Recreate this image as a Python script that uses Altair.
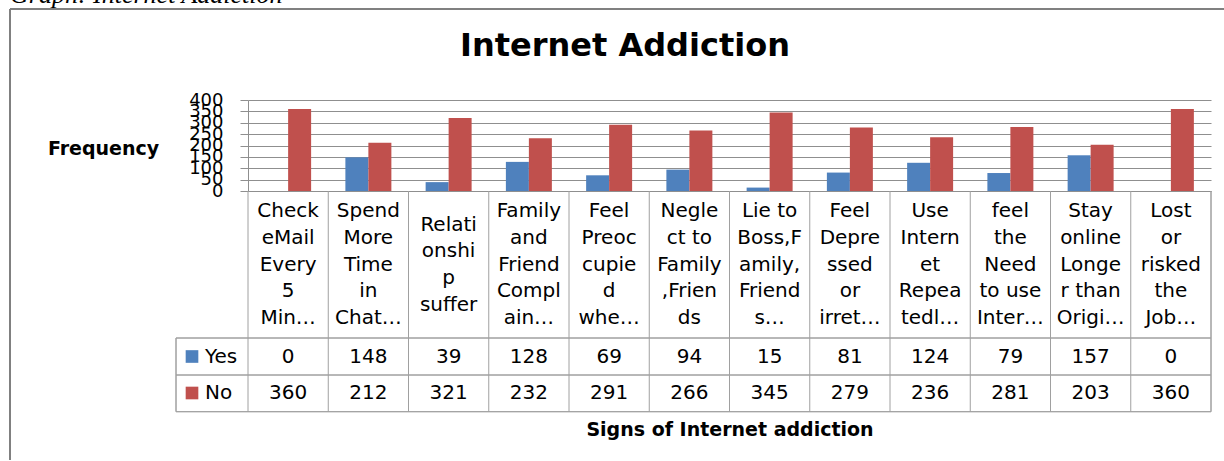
import altair as alt
import pandas as pd

# ---- data ----
categories = [
    "Check|eMail|Every|5|Min…",
    "Spend|More|Time|in|Chat…",
    "Relati|onshi|p|suffer",
    "Family|and|Friend|Compl|ain…",
    "Feel|Preoc|cupie|d|whe…",
    "Negle|ct to|Family|,Frien|ds",
    "Lie to|Boss,F|amily,|Friend|s…",
    "Feel|Depre|ssed|or|irret…",
    "Use|Intern|et|Repea|tedl…",
    "feel|the|Need|to use|Inter…",
    "Stay|online|Longe|r than|Origi…",
    "Lost|or|risked|the|Job…",
]
yes_values = [0, 148, 39, 128, 69, 94, 15, 81, 124, 79, 157, 0]
no_values = [360, 212, 321, 232, 291, 266, 345, 279, 236, 281, 203, 360]
series_names = ["Yes", "No"]
series_colors = ["#4F81BD", "#C0504D"]
y_ticks = [0, 50, 100, 150, 200, 250, 300, 350, 400]

df = pd.DataFrame({
    "cat": categories * 2,
    "series": ["Yes"] * len(categories) + ["No"] * len(categories),
    "value": yes_values + no_values,
})
df_cats = pd.DataFrame({"cat": categories})
df_series = pd.DataFrame({"series": series_names})

W, H = 963, 91
FONT = "DejaVu Sans"
GRID = "#8f8f8f"
TABLE = "#a0a0a0"

x_enc = alt.X(
    "cat:N", sort=categories,
    scale=alt.Scale(paddingInner=0, paddingOuter=0),
    axis=alt.Axis(
        title="Signs of Internet addiction",
        labelExpr="split(datum.label, '|')",
        labelAngle=0, labelFont=FONT, labelFontSize=20, labelColor="#000000",
        labelLineHeight=26.7, labelBaseline="middle", labelAlign="center",
        labelPadding={"condition": {"test": "length(split(datum.value, '|')) < 5", "value": 33},
                      "value": 19.7},
        labelLimit=200,
        ticks=False, tickSize=0, grid=False,
        domainColor=GRID, domainWidth=1,
        titleFont=FONT, titleFontSize=19, titleFontWeight="bold", titleColor="#000000",
        titleX=481.5, titleY=244.5, titleAlign="center", titleBaseline="alphabetic",
    ),
)
color_enc = alt.Color("series:N", scale=alt.Scale(domain=series_names, range=series_colors), legend=None)

bars = alt.Chart(df).mark_bar().encode(
    x=x_enc,
    xOffset=alt.XOffset("series:N", sort=series_names,
                        scale=alt.Scale(paddingInner=0, paddingOuter=0.745)),
    y=alt.Y("value:Q", scale=alt.Scale(domain=[0, 400], nice=False),
            axis=alt.Axis(
                values=y_ticks, title="Frequency",
                labelFont=FONT, labelFontSize=18, labelColor="#000000",
                labelOverlap=False, labelFlush=False, labelPadding=17,
                tickSize=8, tickColor=GRID, domainColor=GRID,
                gridColor=GRID, gridWidth=1,
                titleAngle=0, titleFont=FONT, titleFontSize=19, titleFontWeight="bold",
                titleColor="#000000", titleX=-145, titleY=54, titleAlign="center",
                titleBaseline="alphabetic",
            )),
    color=color_enc,
)

# data table grid
vlines = alt.Chart(df_cats).mark_rule(color=TABLE, strokeWidth=1).encode(
    x=alt.X("cat:N", sort=categories, bandPosition=0),
    y=alt.value(H), y2=alt.value(311.7),
)
vline_right = alt.Chart(df_series).mark_rule(color=TABLE).encode(
    x=alt.value(W), y=alt.value(H), y2=alt.value(311.7))
vline_left = alt.Chart(df_series).mark_rule(color=TABLE).encode(
    x=alt.value(-72), y=alt.value(238), y2=alt.value(311.7))
hl = [alt.Chart(df_series).mark_rule(color=TABLE).encode(
    x=alt.value(-72), x2=alt.value(W), y=alt.value(v)) for v in (238, 275, 311.7)]

rows = []
for s, yv in zip(series_names, (256.5, 293)):
    rows.append(alt.Chart(df).transform_filter(alt.datum.series == s).mark_text(
        font=FONT, fontSize=20, color="#000000", baseline="middle", align="center"
    ).encode(x=alt.X("cat:N", sort=categories, bandPosition=0.5), y=alt.value(yv), text="value:Q"))
    rows.append(alt.Chart(df_series).transform_filter(alt.datum.series == s).mark_square(
        size=160, opacity=1).encode(x=alt.value(-56), y=alt.value(yv), color=color_enc))
    rows.append(alt.Chart(df_series).transform_filter(alt.datum.series == s).mark_text(
        font=FONT, fontSize=20, color="#000000", baseline="middle", align="left"
    ).encode(x=alt.value(-43), y=alt.value(yv), text="series:N"))

title = alt.Chart(df_series.head(1)).mark_text(
    font=FONT, fontSize=32, fontWeight="bold", color="#000000", align="center", baseline="alphabetic"
).encode(x=alt.value(377), y=alt.value(-44), text=alt.value("Internet Addiction"))

caption = alt.Chart(df_series.head(1)).mark_text(
    font="Liberation Serif", fontSize=26, fontStyle="italic", color="#000000",
    align="left", baseline="alphabetic"
).encode(x=alt.value(-238), y=alt.value(-97), text=alt.value("Graph: Internet Addiction"))

frame_top = alt.Chart(df_series.head(1)).mark_rule(color="#808080", strokeWidth=2).encode(
    x=alt.value(-238), x2=alt.value(990), y=alt.value(-91))
frame_left = alt.Chart(df_series.head(1)).mark_rule(color="#808080", strokeWidth=2).encode(
    x=alt.value(-238), y=alt.value(-91), y2=alt.value(370))

chart = alt.layer(
    frame_top, frame_left, caption, title, bars, vlines, vline_right, vline_left, *hl, *rows
).properties(
    width=W, height=H,
    autosize=alt.AutoSizeParams(type="none"),
    padding={"left": 248, "top": 100, "right": 13, "bottom": 269},
    background="white",
).configure_view(stroke=None)

chart.save("out.html", embed_options={"renderer": "svg", "actions": False})
